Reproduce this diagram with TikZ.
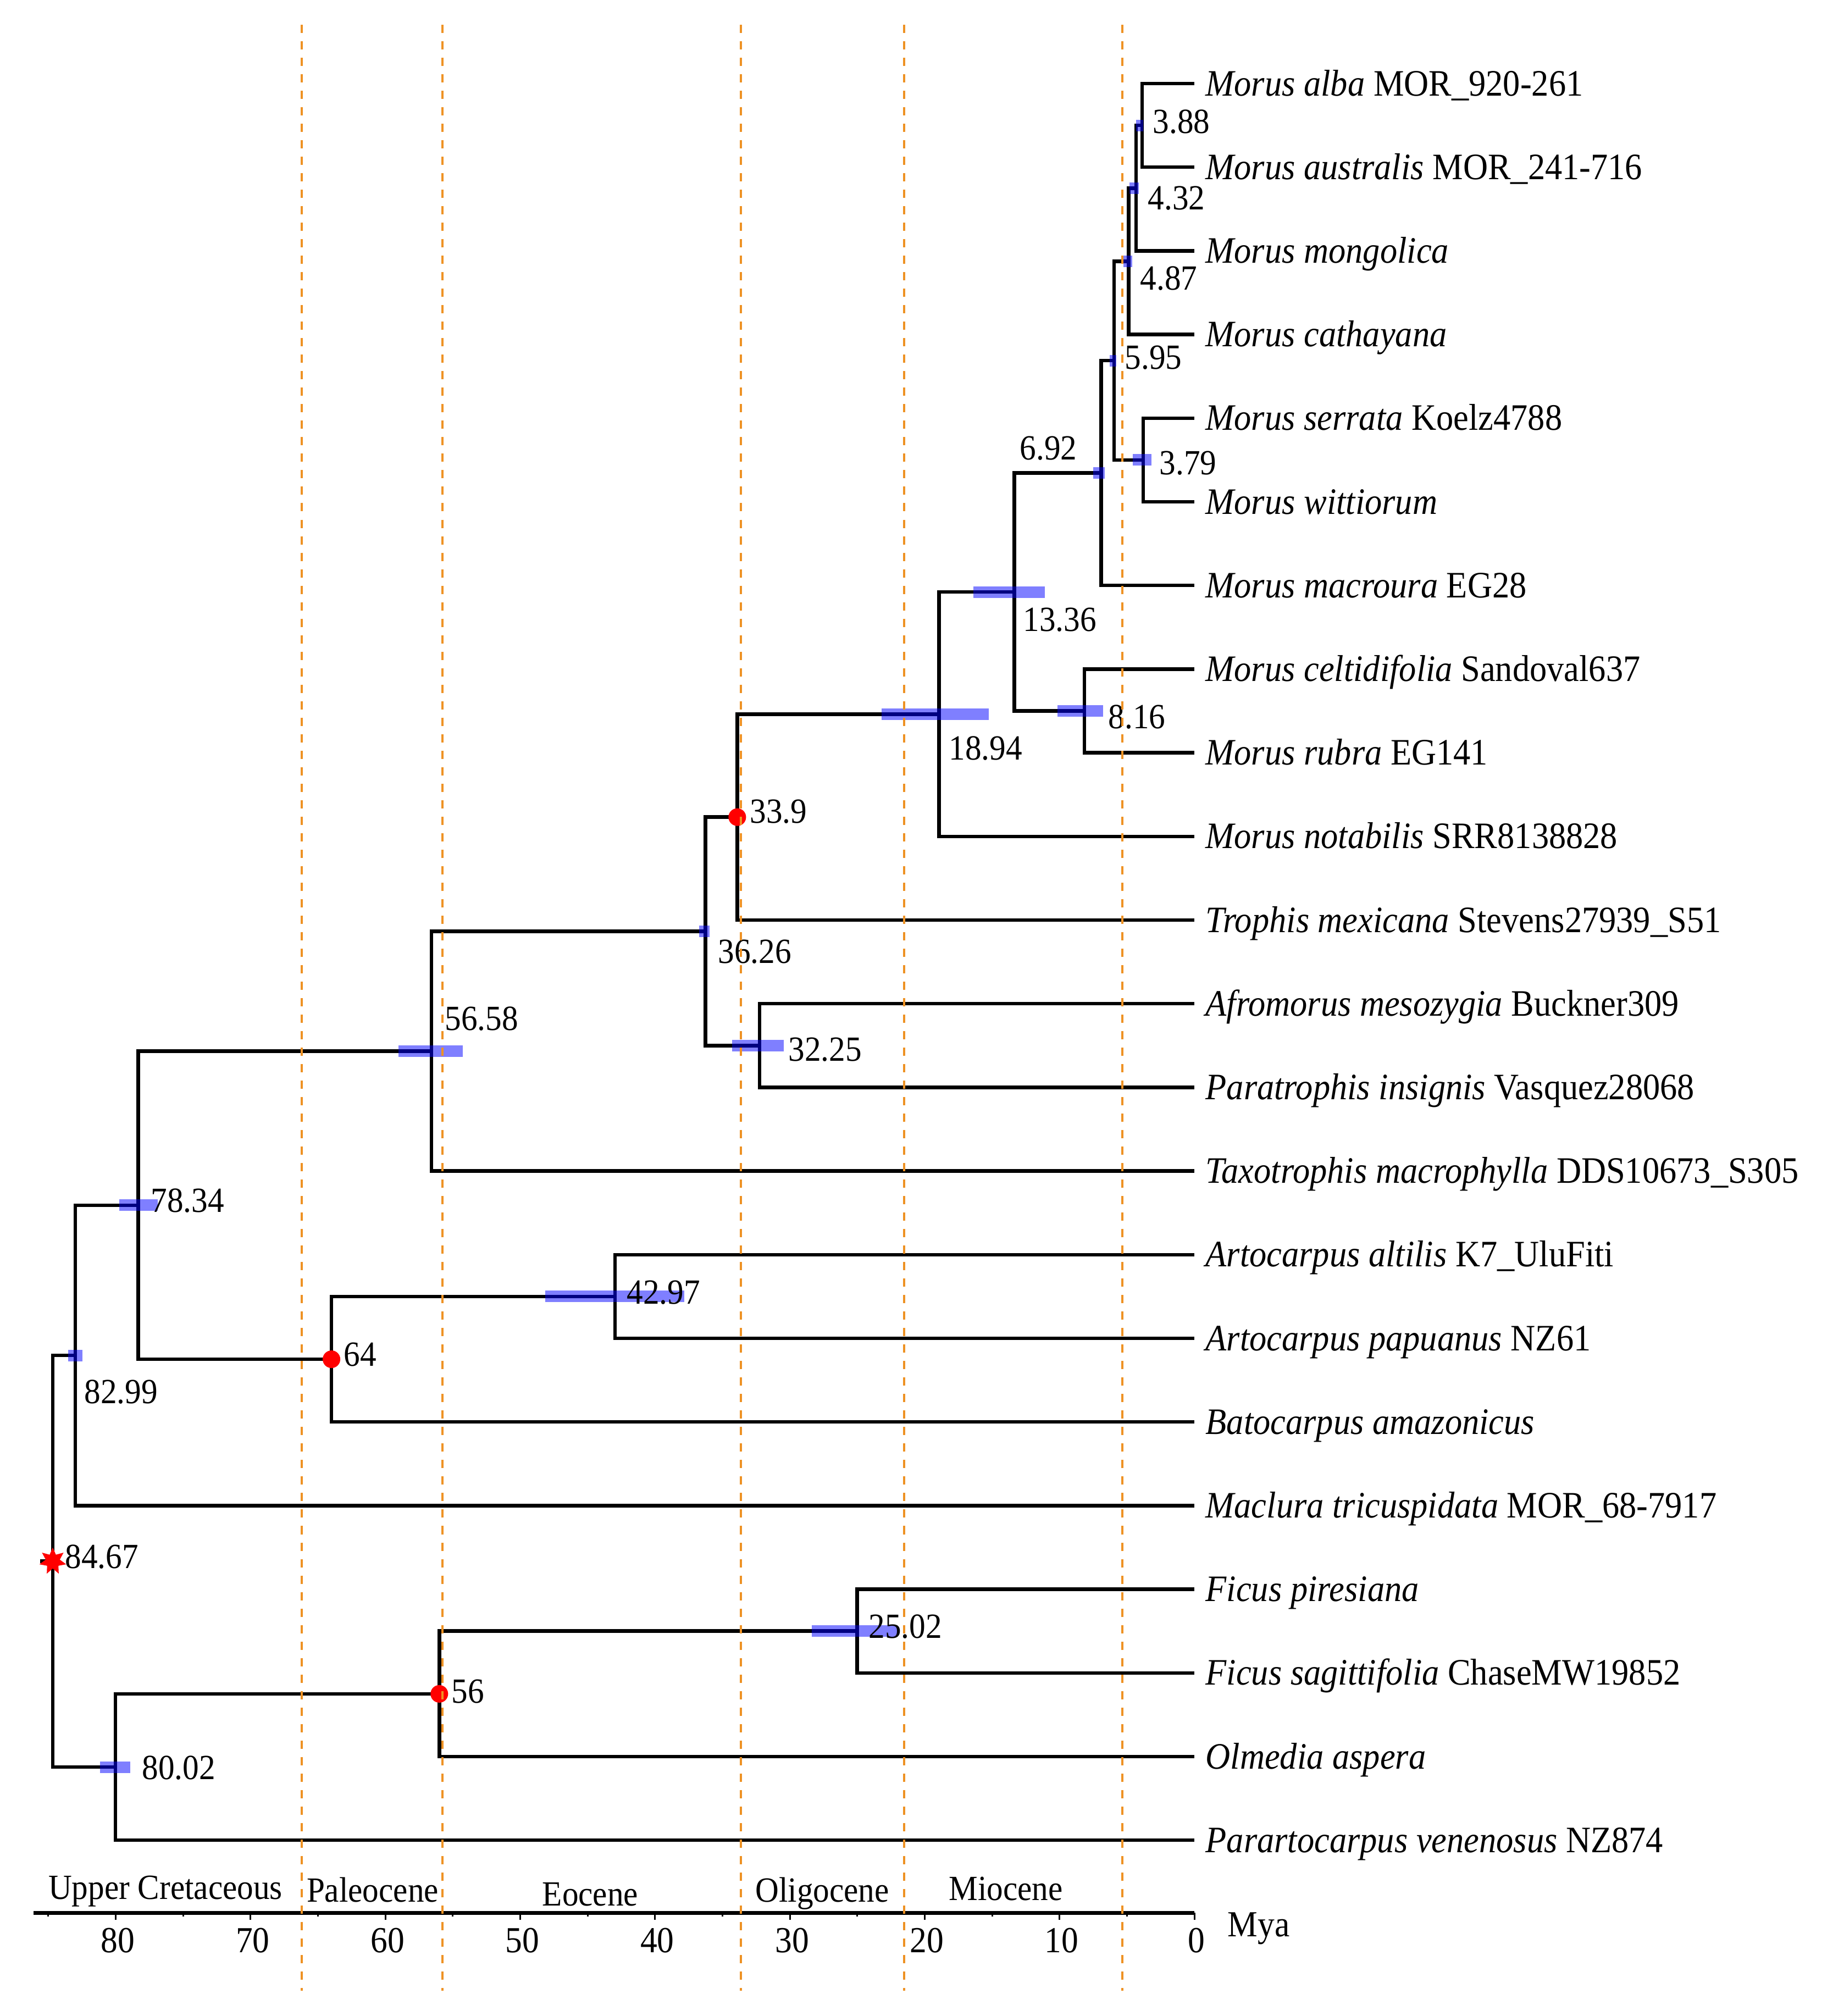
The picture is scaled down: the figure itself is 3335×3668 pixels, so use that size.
\documentclass[tikz,border=0pt]{standalone}
\usepackage{fontspec}
\setmainfont{Liberation Serif}[FakeStretch=0.92]
\usetikzlibrary{shapes.geometric}
\definecolor{epochc}{RGB}{238,146,36}
\begin{document}
\begin{tikzpicture}[x=0.01cm,y=-0.01cm,
  br/.style={line width=0.065cm, black, line join=miter},
  hpd/.style={draw=blue, draw opacity=0.5, line width=0.21cm},
  leaf/.style={anchor=base west, inner sep=0pt, font=\fontsize{19.3pt}{23pt}\selectfont},
  age/.style={anchor=base west, inner sep=0pt, font=\fontsize{18.3pt}{22pt}\selectfont},
  era/.style={anchor=base, inner sep=0pt, font=\fontsize{18.3pt}{22pt}\selectfont},
  epoch/.style={draw=epochc, line width=0.045cm, dash pattern=on 0.15cm off 0.15cm},
  reddot/.style={circle, fill=red, inner sep=0pt, minimum size=0.32cm},
  rootstar/.style={star, star points=7, star point ratio=1.9, fill=red, inner sep=0pt, minimum size=0.5cm}]
\useasboundingbox (0,0) rectangle (3335,3668);

% leaf end points
\coordinate (l0) at (2173,152.0);
\coordinate (l1) at (2173,304.2);
\coordinate (l2) at (2173,456.4);
\coordinate (l3) at (2173,608.6);
\coordinate (l4) at (2173,760.8);
\coordinate (l5) at (2173,913.0);
\coordinate (l6) at (2173,1065.2);
\coordinate (l7) at (2173,1217.4);
\coordinate (l8) at (2173,1369.6);
\coordinate (l9) at (2173,1521.8);
\coordinate (l10) at (2173,1674.0);
\coordinate (l11) at (2173,1826.2);
\coordinate (l12) at (2173,1978.4);
\coordinate (l13) at (2173,2130.6);
\coordinate (l14) at (2173,2282.8);
\coordinate (l15) at (2173,2435.0);
\coordinate (l16) at (2173,2587.2);
\coordinate (l17) at (2173,2739.4);
\coordinate (l18) at (2173,2891.6);
\coordinate (l19) at (2173,3043.8);
\coordinate (l20) at (2173,3196.0);
\coordinate (l21) at (2173,3348.2);

% internal nodes
\coordinate (n388) at (2077.8,228.1);
\coordinate (n432) at (2067.0,342.25);
\coordinate (n487) at (2053.5,475.4);
\coordinate (n379) at (2080.0,836.9);
\coordinate (n595) at (2027.0,656.15);
\coordinate (n692) at (2003.3,860.7);
\coordinate (n816) at (1972.8,1293.5);
\coordinate (n1336) at (1845.3,1077.1);
\coordinate (n1894) at (1708.4,1299.45);
\coordinate (n339) at (1341.4,1486.7);
\coordinate (n3225) at (1381.9,1902.3);
\coordinate (n3626) at (1283.5,1694.5);
\coordinate (n5658) at (785.1,1912.55);
\coordinate (n4297) at (1119.0,2358.9);
\coordinate (n64) at (603.1,2473.05);
\coordinate (n7834) at (251.3,2192.8);
\coordinate (n8299) at (137.2,2466.1);
\coordinate (n2502) at (1559.3,2967.7);
\coordinate (n56) at (799.3,3081.85);
\coordinate (n8002) at (210.1,3215.0);
\coordinate (n8467) at (96.0,2840.55);
\coordinate (rootstub) at (73,2840.55);

% branches
\foreach \p/\c in {n388/l0, n388/l1, n432/n388, n432/l2, n487/n432, n487/l3,
  n379/l4, n379/l5, n595/n487, n595/n379, n692/n595, n692/l6, n816/l7, n816/l8,
  n1336/n692, n1336/n816, n1894/n1336, n1894/l9, n339/n1894, n339/l10,
  n3225/l11, n3225/l12, n3626/n339, n3626/n3225, n5658/n3626, n5658/l13,
  n4297/l14, n4297/l15, n64/n4297, n64/l16, n7834/n5658, n7834/n64,
  n8299/n7834, n8299/l17, n2502/l18, n2502/l19, n56/n2502, n56/l20,
  n8002/n56, n8002/l21, n8467/n8299, n8467/n8002}
  \draw[br] (\p) |- (\c);
\draw[br] (rootstub) -- (n8467);

% HPD bars
\draw[hpd] (2067,0 |- n388) -- (2080,0 |- n388);
\draw[hpd] (2055,0 |- n432) -- (2072,0 |- n432);
\draw[hpd] (2044,0 |- n487) -- (2060,0 |- n487);
\draw[hpd] (2019,0 |- n595) -- (2031,0 |- n595);
\draw[hpd] (1989,0 |- n692) -- (2010,0 |- n692);
\draw[hpd] (2061,0 |- n379) -- (2095,0 |- n379);
\draw[hpd] (1771,0 |- n1336) -- (1901,0 |- n1336);
\draw[hpd] (1604,0 |- n1894) -- (1799,0 |- n1894);
\draw[hpd] (1924,0 |- n816) -- (2007,0 |- n816);
\draw[hpd] (1272,0 |- n3626) -- (1291,0 |- n3626);
\draw[hpd] (1332,0 |- n3225) -- (1426,0 |- n3225);
\draw[hpd] (725,0 |- n5658) -- (842,0 |- n5658);
\draw[hpd] (992,0 |- n4297) -- (1245,0 |- n4297);
\draw[hpd] (1477,0 |- n2502) -- (1633,0 |- n2502);
\draw[hpd] (217,0 |- n7834) -- (287,0 |- n7834);
\draw[hpd] (124,0 |- n8299) -- (150,0 |- n8299);
\draw[hpd] (182,0 |- n8002) -- (237,0 |- n8002);

% calibration markers
\node[reddot] (d339) at (n339) {};
\node[reddot] (d64) at (n64) {};
\node[reddot] (d56) at (n56) {};
\node[rootstar] (s8467) at (n8467) {};

% age labels
\node[age] (a388) at (2097,242) {3.88};
\node[age] (a432) at (2088,381) {4.32};
\node[age] (a487) at (2074,527) {4.87};
\node[age] (a595) at (2046,671) {5.95};
\node[age] (a379) at (2109,863) {3.79};
\node[age] (a692) at (1855,836) {6.92};
\node[age] (a1336) at (1861,1148) {13.36};
\node[age] (a816) at (2016,1325) {8.16};
\node[age] (a1894) at (1726,1382) {18.94};
\node[age] (a339) at (1364,1497) {33.9};
\node[age] (a3626) at (1306,1752) {36.26};
\node[age] (a3225) at (1434,1930) {32.25};
\node[age] (a5658) at (809,1874) {56.58};
\node[age] (a7834) at (274,2205) {78.34};
\node[age] (a8299) at (153,2553) {82.99};
\node[age] (a64) at (625,2485) {64};
\node[age] (a4297) at (1140,2372) {42.97};
\node[age] (a8467) at (118,2853) {84.67};
\node[age] (a2502) at (1580,2980) {25.02};
\node[age] (a56) at (821,3098) {56};
\node[age] (a8002) at (258,3237) {80.02};

% leaf labels
\node[leaf] (t0) at (2193,174.0) {\textit{Morus alba} MOR\_920-261};
\node[leaf] (t1) at (2193,326.2) {\textit{Morus australis} MOR\_241-716};
\node[leaf] (t2) at (2193,478.4) {\textit{Morus mongolica}};
\node[leaf] (t3) at (2193,630.6) {\textit{Morus cathayana}};
\node[leaf] (t4) at (2193,782.8) {\textit{Morus serrata} Koelz4788};
\node[leaf] (t5) at (2193,935.0) {\textit{Morus wittiorum}};
\node[leaf] (t6) at (2193,1087.2) {\textit{Morus macroura} EG28};
\node[leaf] (t7) at (2193,1239.4) {\textit{Morus celtidifolia} Sandoval637};
\node[leaf] (t8) at (2193,1391.6) {\textit{Morus rubra} EG141};
\node[leaf] (t9) at (2193,1543.8) {\textit{Morus notabilis} SRR8138828};
\node[leaf] (t10) at (2193,1696.0) {\textit{Trophis mexicana} Stevens27939\_S51};
\node[leaf] (t11) at (2193,1848.2) {\textit{Afromorus mesozygia} Buckner309};
\node[leaf] (t12) at (2193,2000.4) {\textit{Paratrophis insignis} Vasquez28068};
\node[leaf] (t13) at (2193,2152.6) {\textit{Taxotrophis macrophylla} DDS10673\_S305};
\node[leaf] (t14) at (2193,2304.8) {\textit{Artocarpus altilis} K7\_UluFiti};
\node[leaf] (t15) at (2193,2457.0) {\textit{Artocarpus papuanus} NZ61};
\node[leaf] (t16) at (2193,2609.2) {\textit{Batocarpus amazonicus}};
\node[leaf] (t17) at (2193,2761.4) {\textit{Maclura tricuspidata} MOR\_68-7917};
\node[leaf] (t18) at (2193,2913.6) {\textit{Ficus piresiana}};
\node[leaf] (t19) at (2193,3065.8) {\textit{Ficus sagittifolia} ChaseMW19852};
\node[leaf] (t20) at (2193,3218.0) {\textit{Olmedia aspera}};
\node[leaf] (t21) at (2193,3370.2) {\textit{Parartocarpus venenosus} NZ874};

% time axis
\coordinate (ax0) at (61,3480);
\coordinate (ax1) at (2173,3480);
\draw[br, line width=0.07cm] (ax0) -- (ax1);
\foreach \t in {0,10,...,80}
  \draw[line width=0.03cm] ({2173-24.53*\t},3480) -- ++(0,13);
\foreach \t in {5,15,...,85}
  \draw[line width=0.03cm] ({2173-24.53*\t},3480) -- ++(0,7);
\foreach \t in {0,10,...,80}
  \node[era, font=\fontsize{19pt}{22pt}\selectfont] (tk\t) at ({2177-24.53*\t},3552) {\t};
\node[anchor=base west, inner sep=0pt, font=\fontsize{19pt}{22pt}\selectfont] (mya) at (2233,3523) {Mya};

% epoch names
\node[era] (e1) at (301,3455) {Upper Cretaceous};
\node[era] (e2) at (678,3460) {Paleocene};
\node[era] (e3) at (1074,3467) {Eocene};
\node[era] (e4) at (1496,3460) {Oligocene};
\node[era] (e5) at (1830,3457) {Miocene};

% epoch boundaries
\foreach \x in {549,805,1348,1645,2042}
  \draw[epoch] (\x,45) -- (\x,3622);
\end{tikzpicture}
\end{document}
